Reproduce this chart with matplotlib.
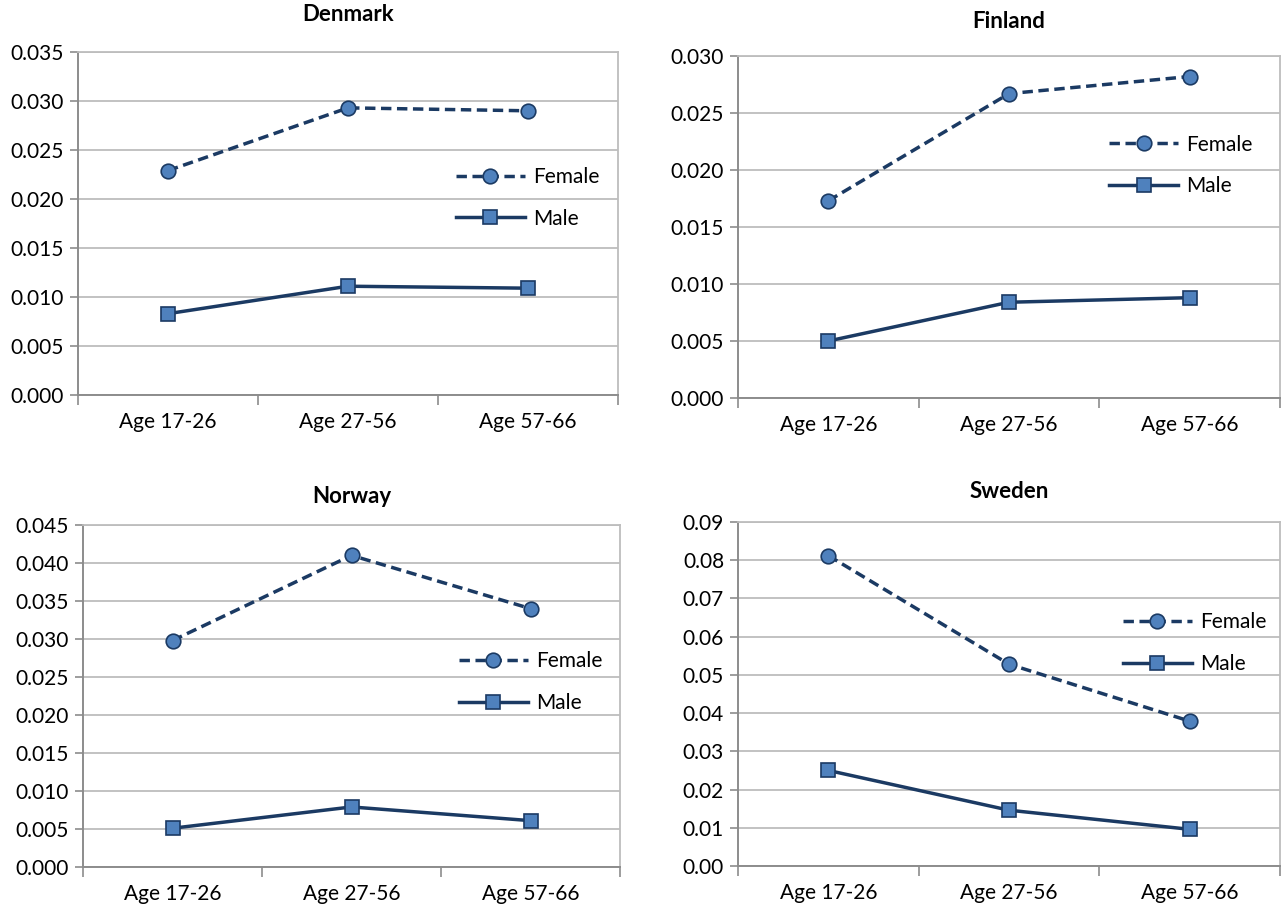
import matplotlib
matplotlib.use("Agg")
import matplotlib.pyplot as plt
import numpy as np

plt.rcParams['font.family'] = ['Lato', 'DejaVu Sans']

ages = ["Age 17-26", "Age 27-56", "Age 57-66"]

denmark_female = [0.0229, 0.0293, 0.0290]
denmark_male = [0.0083, 0.0111, 0.0109]
finland_female = [0.0173, 0.0267, 0.0282]
finland_male = [0.0050, 0.0084, 0.0088]
norway_female = [0.0298, 0.0410, 0.0340]
norway_male = [0.0051, 0.0079, 0.0061]
sweden_female = [0.0812, 0.0528, 0.0379]
sweden_male = [0.0250, 0.0146, 0.0096]

LINE = "#1b3a63"
FACE = "#4f81bd"
GRID = "#bdbdbd"
W, H = 1282, 908

# (country, female, male, ymax, ystep, decimals, axes box in px, legend anchor, title pad)
panels = [
    ("Denmark", denmark_female, denmark_male, 0.035, 0.005, 3, (78, 52, 618, 395), (0.70, 0.575), 22),
    ("Finland", finland_female, finland_male, 0.030, 0.005, 3, (738, 56, 1280, 398), (0.685, 0.68), 20),
    ("Norway", norway_female, norway_male, 0.045, 0.005, 3, (83, 525, 620, 867), (0.70, 0.54), 16),
    ("Sweden", sweden_female, sweden_male, 0.09, 0.01, 2, (738, 522, 1280, 866), (0.71, 0.648), 17),
]

fig = plt.figure(figsize=(W / 100, H / 100), dpi=100)

for name, fem, mal, ymax, step, dec, (x0, y0, x1, y1), leg, tpad in panels:
    ax = fig.add_axes([x0 / W, 1 - y1 / H, (x1 - x0) / W, (y1 - y0) / H])
    x = np.arange(len(ages))
    ax.plot(x, fem, linestyle=(0, (3, 1.6)), color=LINE, lw=2.5, marker='o', ms=10.5,
            mfc=FACE, mec=LINE, mew=1.2, label="Female", zorder=3)
    ax.plot(x, mal, linestyle='-', color=LINE, lw=2.5, marker='s', ms=10.5,
            mfc=FACE, mec=LINE, mew=1.2, label="Male", zorder=3)

    ax.set_xlim(-0.5, len(ages) - 0.5)
    ax.set_ylim(0, ymax)
    yt = np.arange(0, ymax + step / 2, step)
    ax.set_yticks(yt)
    ax.set_yticklabels([f"{v:.{dec}f}" for v in yt])
    ax.yaxis.grid(True, color=GRID, lw=1.3)
    ax.set_axisbelow(True)

    # category ticks sit between the groups, labels at the centres
    ax.set_xticks(np.arange(-0.5, len(ages), 1.0))
    ax.set_xticklabels([])
    ax.set_xticks(x, minor=True)
    ax.set_xticklabels(ages, minor=True)
    ax.tick_params(axis='x', which='major', length=7, color="#8c8c8c", width=1.2)
    ax.tick_params(axis='x', which='minor', length=0, pad=12, labelsize=15)
    ax.tick_params(axis='y', length=6, color="#8c8c8c", width=1.2, labelsize=15, pad=4)

    for side in ['left', 'bottom']:
        ax.spines[side].set_color("#8c8c8c")
        ax.spines[side].set_linewidth(1.4)
    for side in ['top', 'right']:
        ax.spines[side].set_color(GRID)
        ax.spines[side].set_linewidth(1.3)

    ax.set_title(name, fontsize=16, fontweight='bold', pad=tpad)
    ax.legend(loc='center left', bbox_to_anchor=leg, frameon=False, fontsize=15,
              handlelength=3.3, handletextpad=0.4, labelspacing=1.05,
              borderpad=0, borderaxespad=0)

fig.savefig("out.png", dpi=100, facecolor='white')
